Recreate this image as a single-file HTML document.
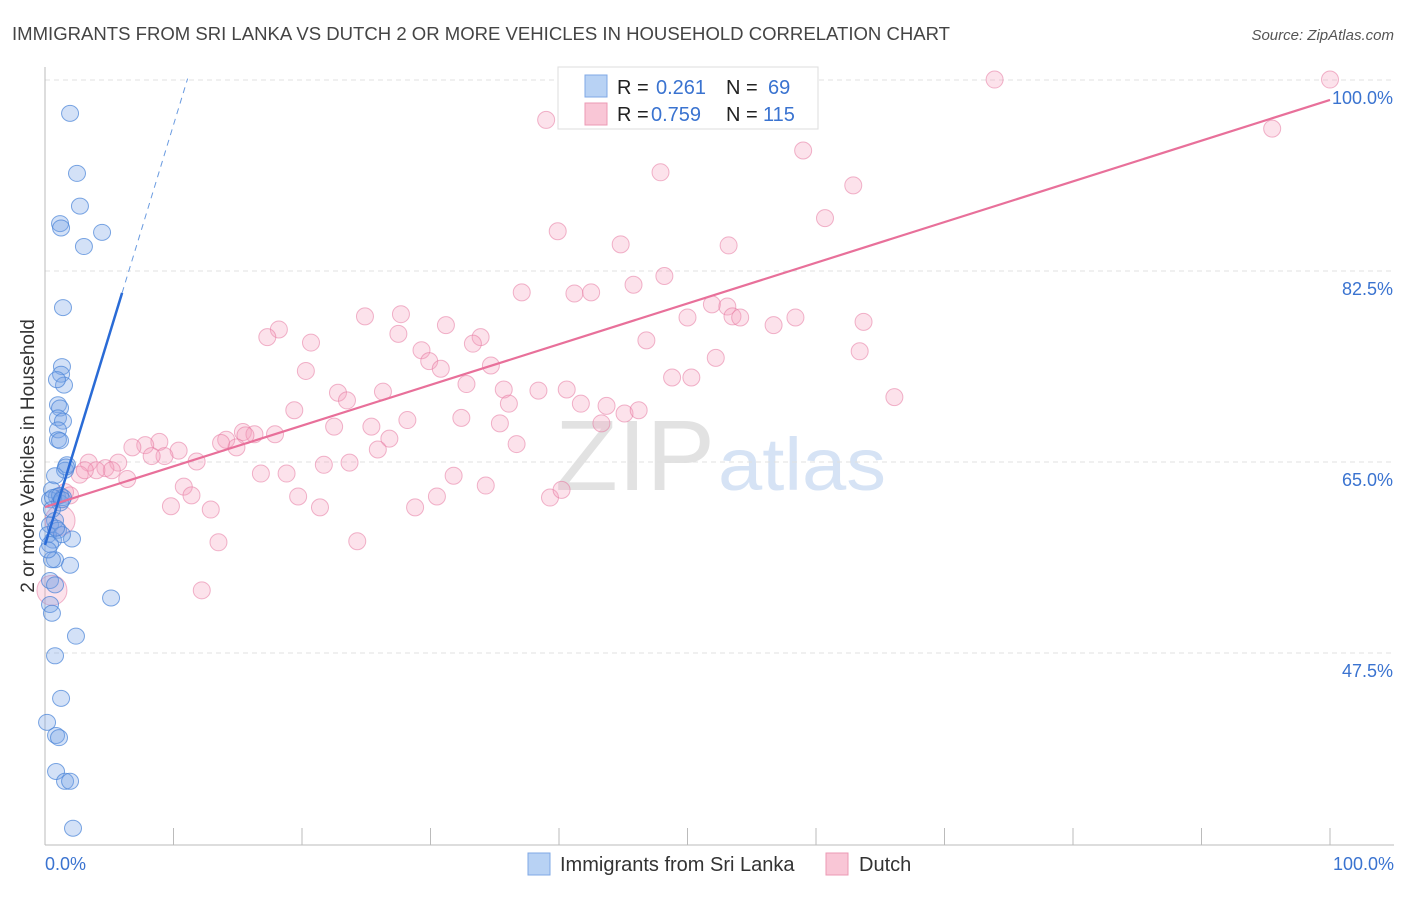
<!DOCTYPE html>
<html><head><meta charset="utf-8"><style>
body{margin:0;background:#fff;font-family:"Liberation Sans",sans-serif}
svg text{font-family:"Liberation Sans",sans-serif}
</style></head><body>
<svg id="chart" width="1406" height="892" xmlns="http://www.w3.org/2000/svg">
<text x="12" y="40" font-size="18" fill="#444" textLength="938" lengthAdjust="spacingAndGlyphs">IMMIGRANTS FROM SRI LANKA VS DUTCH 2 OR MORE VEHICLES IN HOUSEHOLD CORRELATION CHART</text>
<text x="1394" y="40" font-size="15" fill="#555" font-style="italic" text-anchor="end">Source: ZipAtlas.com</text>
<g>
<text x="555" y="490" font-size="100" fill="#e2e2e2" font-family="Liberation Serif" textLength="160" lengthAdjust="spacingAndGlyphs">ZIP</text>
<text x="718" y="490" font-size="74" fill="#d6e3f5" textLength="168" lengthAdjust="spacingAndGlyphs">atlas</text>
</g>
<g id="grid"></g>
<g id="axes"></g>
<g id="pts"></g>
<g id="lines"></g>
<text transform="translate(34,456) rotate(-90)" font-size="19" fill="#333" text-anchor="middle">2 or more Vehicles in Household</text>
<g>
<rect x="558" y="67" width="260" height="62" fill="#fff" stroke="#ddd"/>
<rect x="585" y="75" width="22" height="22" fill="#b8d2f4" stroke="#7fa8e6"/>
<rect x="585" y="103" width="22" height="22" fill="#f9c6d6" stroke="#ec9ab4"/>
<text y="94" font-size="20"><tspan x="617" fill="#222">R = </tspan><tspan x="656" fill="#3a73d0">0.261</tspan><tspan x="726" fill="#222">N = </tspan><tspan x="768" fill="#3a73d0">69</tspan></text>
<text y="121" font-size="20"><tspan x="617" fill="#222">R = </tspan><tspan x="651" fill="#3a73d0">0.759</tspan><tspan x="726" fill="#222">N = </tspan><tspan x="763" fill="#3a73d0">115</tspan></text>
</g>
<g>
<rect x="528" y="853" width="22" height="22" fill="#b8d2f4" stroke="#7fa8e6"/>
<text x="560" y="871" font-size="20" fill="#333">Immigrants from Sri Lanka</text>
<rect x="826" y="853" width="22" height="22" fill="#f9c6d6" stroke="#ec9ab4"/>
<text x="859" y="871" font-size="20" fill="#333">Dutch</text>
</g>
</svg>
<script>
const yTicks=[100,82.5,65,47.5];
const yTickLabels=["100.0%","82.5%","65.0%","47.5%"];
const xTicks=[0,10,20,30,40,50,60,70,80,90,100];
const blueX=[1.95,2.49,2.72,1.17,1.25,4.44,3.03,1.40,1.32,1.25,1.48,0.93,1.01,1.17,1.01,1.40,1.01,1.01,1.17,1.71,1.56,0.78,0.54,0.93,0.39,1.40,1.17,0.54,0.78,0.39,1.01,0.23,2.10,0.62,1.32,0.39,0.78,1.95,0.54,0.39,0.78,5.14,0.39,0.54,2.41,0.78,1.25,0.16,0.86,1.09,0.86,1.56,1.95,2.18,0.23,1.17,0.86,0.62,1.63,1.32];
const blueY=[98.5,93.0,90.0,88.4,88.0,87.6,86.3,80.7,75.3,74.6,73.6,74.1,71.8,71.5,70.6,70.3,69.5,68.6,68.5,66.3,65.8,65.3,64.0,63.4,63.1,63.3,62.8,62.2,61.2,60.8,60.3,59.9,59.5,59.4,59.9,59.0,57.6,57.1,57.6,55.7,55.3,54.1,53.5,52.7,50.6,48.8,44.9,42.7,41.5,41.3,38.2,37.3,37.3,33.0,58.5,63.5,60.5,63.3,66.1,63.1];
const pinkX=[73.9,100,39.0,95.5,59.0,47.9,62.9,60.7,39.9,44.8,53.2,48.2,37.1,41.2,42.5,45.8,51.9,53.1,53.5,54.1,50.0,58.4,56.7,63.7,24.9,27.7,18.2,17.3,20.7,27.5,31.2,33.9,33.3,46.8,63.4,29.3,29.9,30.8,34.7,52.2,20.3,48.8,50.3,22.8,23.5,26.3,32.8,35.7,36.1,38.4,40.6,41.7,43.7,45.1,46.2,66.1,19.4,28.2,32.4,35.4,22.5,25.4,26.8,25.9,43.3,36.7,14.1,15.4,16.3,15.6,17.9,14.9,13.7,8.9,7.8,10.4,9.3,8.3,11.8,6.8,5.7,3.4,4.7,5.2,4.0,6.4,2.7,21.7,23.7,16.8,18.8,31.8,34.3,10.8,11.4,19.7,21.4,30.5,39.3,40.2,9.8,12.9,28.8,13.5,24.3,12.2,1.17,0.54,1.95,1.56,3.1];
const pinkY=[101.6,101.6,97.9,97.1,95.1,93.1,91.9,88.9,87.7,86.5,86.4,83.6,82.1,82.0,82.1,82.8,81.0,80.8,79.9,79.8,79.8,79.8,79.1,79.4,79.9,80.1,78.7,78.0,77.5,78.3,79.1,78.0,77.4,77.7,76.7,76.8,75.8,75.1,75.4,76.1,74.9,74.3,74.3,72.9,72.2,73.0,73.7,73.2,71.9,73.1,73.2,71.9,71.7,71.0,71.3,72.5,71.3,70.4,70.6,70.1,69.8,69.8,68.7,67.7,70.1,68.2,68.6,69.3,69.1,69.0,69.1,67.9,68.3,68.4,68.1,67.6,67.1,67.1,66.6,67.9,66.5,66.5,66.0,65.8,65.8,65.0,65.4,66.3,66.5,65.5,65.5,65.3,64.4,64.3,63.5,63.4,62.4,63.4,63.3,64.0,62.5,62.2,62.4,59.2,59.3,54.8,61.2,54.8,63.5,63.8,65.8];
const blueTrend=[58.95,3.85];
const pinkTrend=[62.43,0.373];
const NS="http://www.w3.org/2000/svg";
function xs(v){return 45+v*12.85;}
function ys(v){return 97+(100-v)*10.914;}
function mk(tag,attrs,parent){const e=document.createElementNS(NS,tag);for(const k in attrs)e.setAttribute(k,attrs[k]);parent.appendChild(e);return e;}
const grid=document.getElementById('grid'),axes=document.getElementById('axes'),pts=document.getElementById('pts'),lines=document.getElementById('lines');
yTicks.forEach((t,i)=>{
 const g=mk('line',{x1:45,x2:1394,y1:ys(t)-17,y2:ys(t)-17,stroke:'#e0e0e0','stroke-dasharray':'5,4'},grid);
 
 
 const l=mk('text',{x:1393,y:ys(t)+7,'font-size':18,fill:'#3a73d0','text-anchor':'end'},axes);
 l.textContent=yTickLabels[i];
 
 
});
let a=mk('line',{x1:45,x2:45,y1:67,y2:845,stroke:'#bbb'},axes);


a=mk('line',{x1:45,x2:1394,y1:845,y2:845,stroke:'#bbb'},axes);


xTicks.forEach(t=>{if(t===0)return;
 const k=mk('line',{x1:xs(t),x2:xs(t),y1:828,y2:845,stroke:'#bbb'},axes);
 
 
});
let xl=mk('text',{x:45,y:870,'font-size':18,fill:'#3a73d0'},axes);xl.textContent='0.0%';


xl=mk('text',{x:1394,y:870,'font-size':18,fill:'#3a73d0','text-anchor':'end'},axes);xl.textContent='100.0%';


pinkX.forEach((x,i)=>{
 const big=(i>=pinkX.length-5&&i<pinkX.length-3);
 const c=mk('ellipse',{cx:xs(x),cy:ys(pinkY[i]),rx:big?15:8.5,ry:big?15:8.5,fill:'rgba(244,160,190,0.3)',stroke:'rgba(230,120,160,0.55)','stroke-width':1},pts);
 
 
});
blueX.forEach((x,i)=>{
 const c=mk('ellipse',{cx:xs(x),cy:ys(blueY[i]),rx:8.5,ry:8,fill:'rgba(120,165,230,0.33)',stroke:'rgba(70,130,215,0.7)','stroke-width':1},pts);
 
 
});
let ln=mk('line',{x1:xs(0),y1:ys(pinkTrend[0]),x2:xs(100),y2:ys(pinkTrend[0]+pinkTrend[1]*100),stroke:'#e8709a','stroke-width':2.2},lines);


ln=mk('line',{x1:xs(0),y1:ys(blueTrend[0]),x2:xs(6),y2:ys(blueTrend[0]+blueTrend[1]*6),stroke:'#2a6bd6','stroke-width':2.5},lines);


ln=mk('line',{x1:xs(6),y1:ys(blueTrend[0]+blueTrend[1]*6),x2:xs(11.1),y2:ys(blueTrend[0]+blueTrend[1]*11.1),stroke:'#6a9be0','stroke-width':1,'stroke-dasharray':'6,5'},lines);


</script>
</body></html>
